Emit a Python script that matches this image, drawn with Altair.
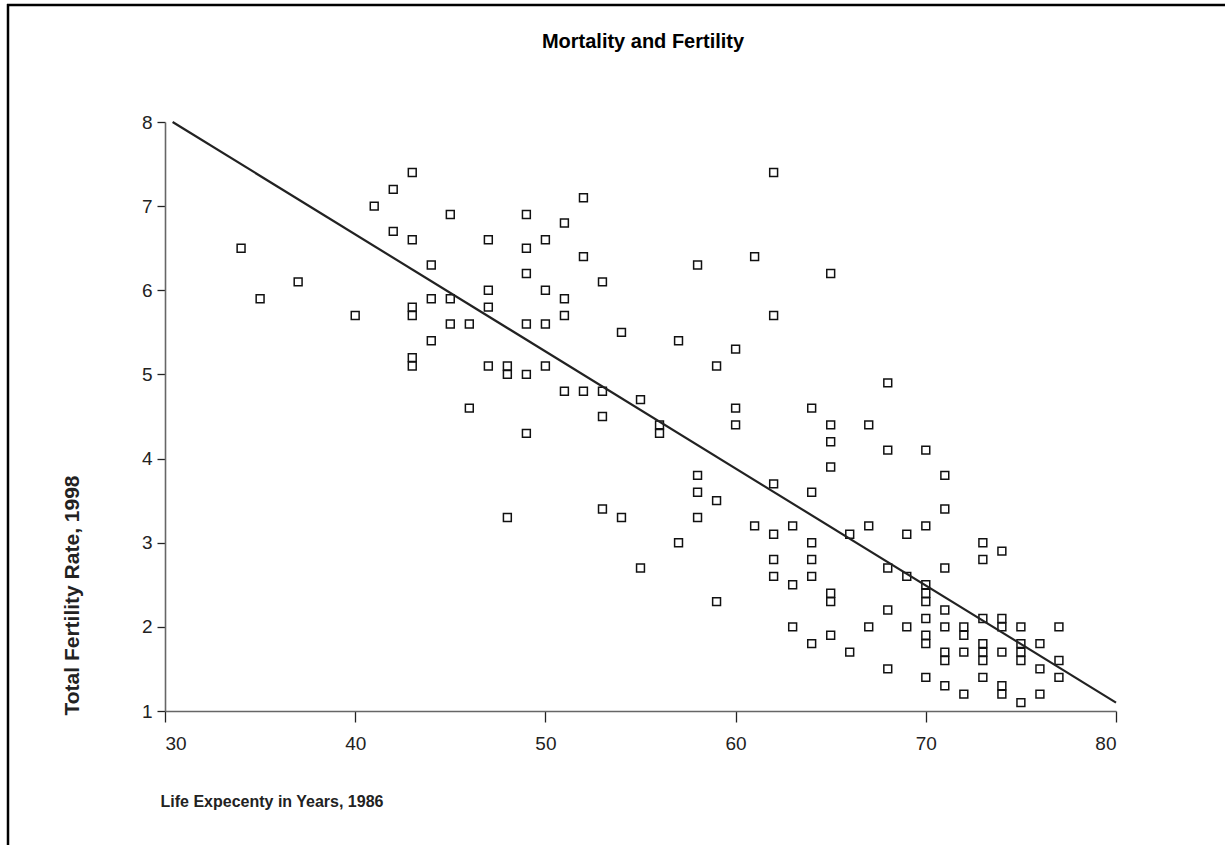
import altair as alt
import pandas as pd

# Life expectancy (1986) and total fertility rate (1998)
life_expectancy = (
    [34, 35, 37, 40, 41]
    + [42] * 2 + [43] * 6 + [44] * 3 + [45] * 3 + [46] * 2
    + [47] * 4 + [48] * 3 + [49] * 6 + [50] * 4 + [51] * 4
    + [52] * 3 + [53] * 4 + [54] * 2 + [55] * 2 + [56] * 2
    + [57] * 2 + [58] * 4 + [59] * 3 + [60] * 3 + [61] * 2
    + [62] * 6 + [63] * 3 + [64] * 6 + [65] * 7 + [66] * 2
    + [67] * 3 + [68] * 5 + [69] * 3 + [70] * 9 + [71] * 8
    + [72] * 4 + [73] * 7 + [74] * 6 + [75] * 5 + [76] * 3 + [77] * 3
)
fertility = [
    6.5, 5.9, 6.1, 5.7, 7.0,
    7.2, 6.7,
    7.4, 6.6, 5.8, 5.7, 5.2, 5.1,
    6.3, 5.9, 5.4,
    6.9, 5.9, 5.6,
    5.6, 4.6,
    6.6, 6.0, 5.8, 5.1,
    5.1, 5.0, 3.3,
    6.9, 6.5, 6.2, 5.6, 5.0, 4.3,
    6.6, 6.0, 5.6, 5.1,
    6.8, 5.9, 5.7, 4.8,
    7.1, 6.4, 4.8,
    6.1, 4.8, 4.5, 3.4,
    5.5, 3.3,
    4.7, 2.7,
    4.4, 4.3,
    5.4, 3.0,
    6.3, 3.8, 3.6, 3.3,
    5.1, 3.5, 2.3,
    5.3, 4.6, 4.4,
    6.4, 3.2,
    7.4, 5.7, 3.7, 3.1, 2.8, 2.6,
    3.2, 2.5, 2.0,
    4.6, 3.6, 3.0, 2.8, 2.6, 1.8,
    6.2, 4.4, 4.2, 3.9, 2.4, 2.3, 1.9,
    3.1, 1.7,
    4.4, 3.2, 2.0,
    4.9, 4.1, 2.7, 2.2, 1.5,
    3.1, 2.6, 2.0,
    4.1, 3.2, 2.5, 2.4, 2.3, 2.1, 1.9, 1.8, 1.4,
    3.8, 3.4, 2.7, 2.2, 2.0, 1.7, 1.6, 1.3,
    2.0, 1.9, 1.7, 1.2,
    3.0, 2.8, 2.1, 1.8, 1.7, 1.6, 1.4,
    2.9, 2.1, 2.0, 1.7, 1.3, 1.2,
    2.0, 1.8, 1.7, 1.6, 1.1,
    1.8, 1.5, 1.2,
    2.0, 1.6, 1.4,
]

# Fitted line end points
fit_x = [30.4, 80.0]
fit_y = [8.0, 1.1]

x_ticks = [30, 40, 50, 60, 70, 80]
y_ticks = [1, 2, 3, 4, 5, 6, 7, 8]

chart_title = ["Mortality and Fertility"]

pts = pd.DataFrame({"le": life_expectancy, "tfr": fertility})
fit = pd.DataFrame({"le": fit_x, "tfr": fit_y})
one = pd.DataFrame({"k": [0]})
ttl = pd.DataFrame({"t": chart_title})

FONT = "Liberation Sans, Arial, Helvetica, sans-serif"

x_enc = alt.X(
    "le:Q",
    scale=alt.Scale(domain=[30, 80], nice=False, zero=False),
    axis=alt.Axis(
        values=x_ticks,
        format="d",
        title="Life Expecenty in Years, 1986",
        titleAnchor="start",
        titleAlign="left",
        titleBaseline="alphabetic",
        titleX=-5,
        titleY=95,
        titleFontSize=16,
        labelPadding=12,
        labelFontSize=19,
        tickSize=11,
        grid=False,
    ),
)
y_enc = alt.Y(
    "tfr:Q",
    scale=alt.Scale(domain=[1, 8], nice=False, zero=False),
    axis=alt.Axis(
        values=y_ticks,
        format="d",
        title="Total Fertility Rate, 1998",
        titleAlign="left",
        titleBaseline="middle",
        titleAngle=270,
        titleX=-93,
        titleY=593,
        titleFontSize=21,
        labelPadding=5,
        labelFontSize=19,
        tickSize=8,
        grid=False,
    ),
)

points = alt.Chart(pts).mark_point(
    shape="square", filled=False, size=62, strokeWidth=1.5, color="#111", opacity=1
).encode(x=x_enc, y=y_enc)

line = alt.Chart(fit).mark_line(color="#222", strokeWidth=2.2).encode(
    x="le:Q", y="tfr:Q"
)

title_mark = alt.Chart(ttl).mark_text(
    font="Liberation Sans Narrow, Arial Narrow, Liberation Sans, sans-serif",
    fontSize=20,
    fontWeight="bold",
    color="#000",
    align="center",
    baseline="middle",
).encode(x=alt.value(478), y=alt.value(-80), text="t:N")

frame_top = alt.Chart(one).mark_rule(color="#000", strokeWidth=2.5).encode(
    x=alt.value(-158), x2=alt.value(1070), y=alt.value(-117)
)
frame_left = alt.Chart(one).mark_rule(color="#000", strokeWidth=2.5).encode(
    x=alt.value(-157), y=alt.value(-118), y2=alt.value(740)
)

chart = (
    alt.layer(points, line, title_mark, frame_top, frame_left)
    .properties(
        width=951,
        height=589,
        background="white",
        autosize=alt.AutoSizeParams(type="none"),
        padding={"left": 165, "top": 122, "right": 109, "bottom": 134},
    )
    .configure_view(stroke=None, strokeWidth=0)
    .configure_axis(
        labelFont=FONT,
        labelColor="#222",
        titleFont=FONT,
        titleFontWeight="bold",
        titleColor="#222",
        domainColor="#666",
        domainWidth=1.6,
        tickColor="#222",
        tickWidth=1.3,
    )
)

chart.save("out.html", embed_options={"renderer": "svg", "actions": False})
